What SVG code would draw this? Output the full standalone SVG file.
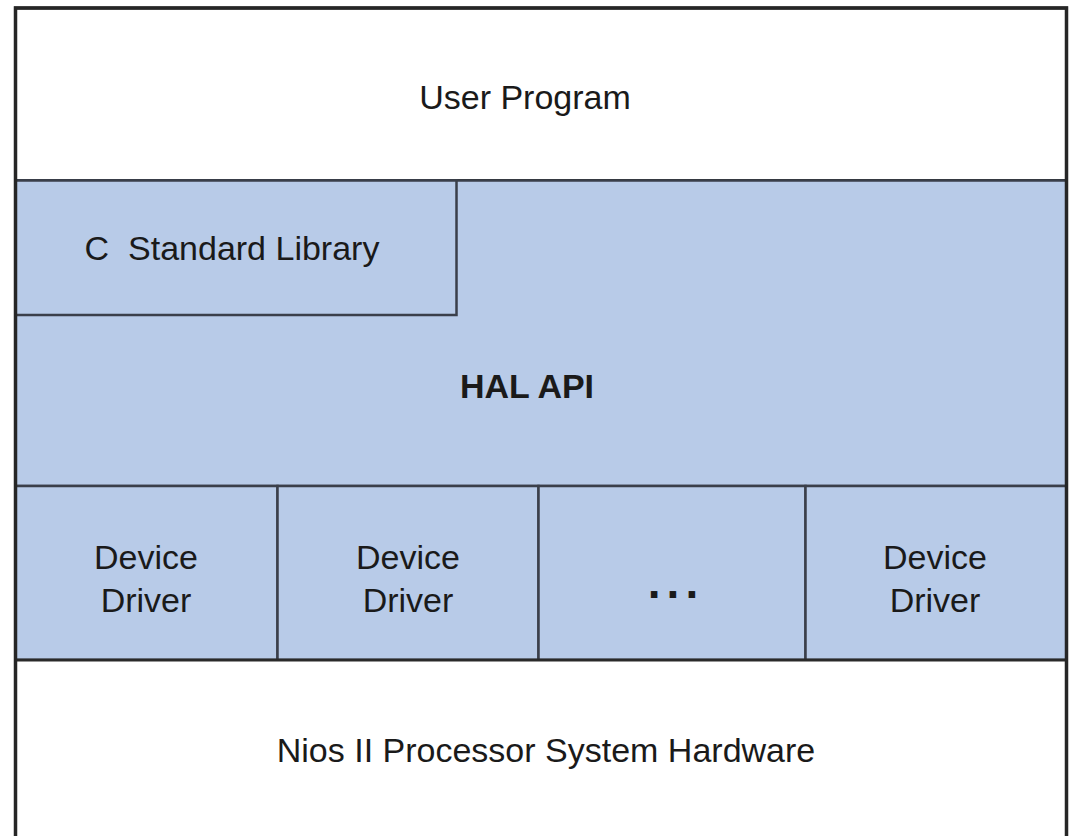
<svg xmlns="http://www.w3.org/2000/svg" width="1072" height="836" viewBox="0 0 1072 836">
<style>
.blue{fill:#b8cbe8;stroke:#3a3f4a;stroke-width:2.5}
.white{fill:#ffffff;stroke:#2a2a2a;stroke-width:3}
.t{font-family:"Liberation Sans",Arial,sans-serif;font-size:34px;fill:#1a1a1a;text-anchor:middle}
.b{font-weight:bold}
.frame{fill:none;stroke:#262626;stroke-width:3.5}
</style>
<rect x="0" y="0" width="1072" height="836" fill="#ffffff"/>
<g id="user-program">
<rect class="white" x="15.5" y="8" width="1051" height="172.5"/>
<text class="t" x="525" y="109">User Program</text>
</g>
<g id="hal-api">
<path class="blue" d="M15.5 180.5 H1066.5 V486 H15.5 Z"/>
<text class="t b" x="527" y="398">HAL API</text>
</g>
<g id="c-standard-library">
<rect class="blue" x="15.5" y="180.5" width="441" height="134.5"/>
<text class="t" x="232" y="260" xml:space="preserve">C  Standard Library</text>
</g>
<g id="device-driver-1">
<rect class="blue" x="15.5" y="486" width="262" height="174"/>
<text class="t" x="146" y="569">Device</text>
<text class="t" x="146" y="612">Driver</text>
</g>
<g id="device-driver-2">
<rect class="blue" x="277.5" y="486" width="261" height="174"/>
<text class="t" x="408" y="569">Device</text>
<text class="t" x="408" y="612">Driver</text>
</g>
<g id="device-driver-ellipsis">
<rect class="blue" x="538.5" y="486" width="267" height="174"/>
<text class="t b" x="676" y="598" style="font-size:46px;letter-spacing:6px">...</text>
</g>
<g id="device-driver-n">
<rect class="blue" x="805.5" y="486" width="261" height="174"/>
<text class="t" x="935" y="569">Device</text>
<text class="t" x="935" y="612">Driver</text>
</g>
<g id="nios-hardware">
<rect class="white" x="15.5" y="660" width="1051" height="190"/>
<text class="t" x="546" y="762">Nios II Processor System Hardware</text>
</g>
<g id="connectors"></g>
<path class="frame" d="M15.5 840 V8 H1066.5 V840"/>
</svg>
